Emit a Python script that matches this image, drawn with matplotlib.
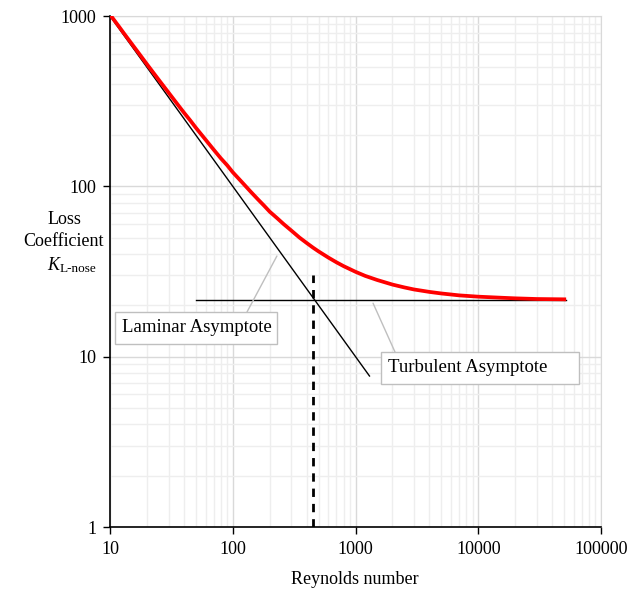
import matplotlib.pyplot as plt
from matplotlib.patches import Rectangle

# values
re_curve = [10, 11, 12, 13, 15, 17, 20, 23, 26, 30, 35, 40, 45, 50, 60, 70, 80, 90,
            100, 120, 140, 160, 180, 200, 230, 260, 300, 350, 400, 450, 500, 600,
            700, 800, 1000, 1200, 1500, 2000, 2500, 3000, 4000, 5000, 7000, 10000,
            15000, 20000, 30000, 52000]
k_curve = [1020, 930, 855, 790, 688, 610, 521, 456, 406, 355, 307, 271, 244, 221,
           188, 164, 146, 133, 121, 105, 93, 84, 77, 71, 65, 60, 55, 50, 46.5, 43.7,
           41.5, 38.2, 35.8, 34.0, 31.5, 29.8, 28.2, 26.5, 25.5, 24.8, 24.0, 23.5,
           22.9, 22.5, 22.2, 22.0, 21.8, 21.7]
re_laminar = [10, 1300]
k_laminar = [1000, 7.7]
re_turb = [50, 52000]
k_turb = [21.5, 21.5]
re_cross = [450, 450]
k_cross = [1, 30]
x_ticks = [10, 100, 1000, 10000, 100000]
y_ticks = [1, 10, 100, 1000]

W, H = 632, 592
plt.rcParams['font.family'] = ['Liberation Serif', 'DejaVu Serif']
fig = plt.figure(figsize=(W / 100, H / 100), dpi=100)
ax = fig.add_axes([110 / W, 1 - 527 / H, 491 / W, 511 / H])

ax.set_xscale('log')
ax.set_yscale('log')
ax.set_xlim(10, 100000)
ax.set_ylim(1, 1000)

ax.grid(True, which='major', color='#d9d9d9', lw=1)
ax.grid(True, which='minor', color='#eeeeee', lw=1)
ax.set_axisbelow(True)

ax.plot(re_curve, k_curve, color='#ff0000', lw=2.7, solid_capstyle='butt', zorder=4)
ax.plot(re_laminar, k_laminar, color='black', lw=1, zorder=3)
ax.plot(re_turb, k_turb, color='black', lw=1, zorder=3)
ax.plot(re_cross, k_cross, color='black', lw=2, ls=(0, (3, 2.5)), zorder=3)

ax.set_xticks(x_ticks)
ax.set_xticklabels([str(v) for v in x_ticks])
ax.set_yticks(y_ticks)
ax.set_yticklabels([str(v) for v in y_ticks])
ax.tick_params(which='major', direction='out', length=5, width=1, labelsize=13, pad=5)
ax.tick_params(which='minor', length=0)

for s in ['top', 'right']:
    ax.spines[s].set_color('#d9d9d9')
for s in ['left', 'bottom']:
    ax.spines[s].set_color('black')
    ax.spines[s].set_linewidth(1.2)

fig.text(355 / W, 1 - 580 / H, 'Reynolds number', ha='center', va='center', fontsize=13)
fig.text(64 / W, 1 - 219 / H, 'Loss', ha='center', va='center', fontsize=13)
fig.text(64 / W, 1 - 242 / H, 'Coefficient', ha='center', va='center', fontsize=13)
fig.text(47 / W, 1 - 265 / H, 'K', ha='left', va='center', fontsize=13, style='italic')
fig.text(60 / W, 1 - 269 / H, 'L-nose', ha='left', va='center', fontsize=9.5)

# annotation boxes
for x0, y0, x1, y1, label in [(115, 312, 277, 344, 'Laminar Asymptote'),
                              (381, 352, 579, 384, 'Turbulent Asymptote')]:
    fig.patches.append(Rectangle((x0 / W, 1 - y1 / H), (x1 - x0) / W, (y1 - y0) / H,
                                 transform=fig.transFigure, facecolor='white',
                                 edgecolor='#bfbfbf', lw=1, zorder=5))
    fig.text((x0 + 7) / W, 1 - (y0 + y1) / 2 / H, label, ha='left', va='center',
             fontsize=13.5, zorder=6)

ax.annotate('', xy=(229, 39), xycoords='data', xytext=(247, H - 312),
            textcoords='figure pixels',
            arrowprops=dict(arrowstyle='-', color='#bfbfbf', lw=1, shrinkA=0, shrinkB=0))
ax.annotate('', xy=(1390, 20.6), xycoords='data', xytext=(395, H - 352),
            textcoords='figure pixels',
            arrowprops=dict(arrowstyle='-', color='#bfbfbf', lw=1, shrinkA=0, shrinkB=0))

fig.savefig('out.png', dpi=100)
